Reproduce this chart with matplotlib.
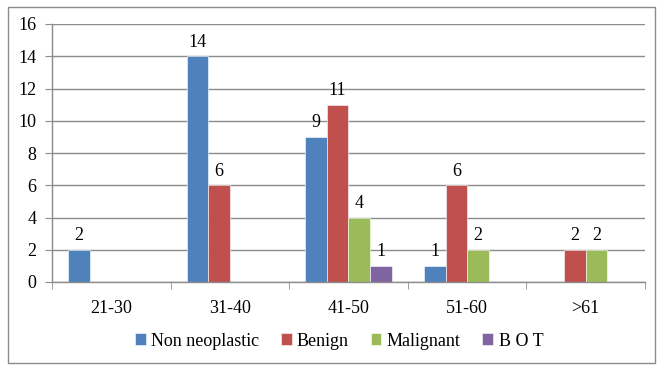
import matplotlib
matplotlib.use("Agg")
import matplotlib.pyplot as plt
from matplotlib.patches import Rectangle
import numpy as np

categories = ["21-30", "31-40", "41-50", "51-60", ">61"]
series_names = ["Non neoplastic", "Benign", "Malignant", "B O T"]
non_neoplastic = [2, 14, 9, 1, 0]
benign = [0, 6, 11, 6, 2]
malignant = [0, 0, 4, 2, 2]
bot = [0, 0, 1, 0, 0]
colors = ["#4F81BD", "#C0504D", "#9BBB59", "#8064A2"]

plt.rcParams["font.family"] = ["Liberation Serif", "DejaVu Serif"]

W, H = 658, 365
fig = plt.figure(figsize=(W / 100, H / 100), dpi=100)
fig.patch.set_facecolor("white")

# outer chart border
fig.patches.append(Rectangle((8 / W, 2 / H), 647 / W, 356 / H, transform=fig.transFigure,
                             fill=False, edgecolor="#8c8c8c", linewidth=1.0))

left, right, top, bottom = 52, 645, 24, 282
ax = fig.add_axes([left / W, (H - bottom) / H, (right - left) / W, (bottom - top) / H])

data = [non_neoplastic, benign, malignant, bot]
n = len(data)
x = np.arange(len(categories))
bw = 1 / (n + 1.5)
for i, (vals, c, name) in enumerate(zip(data, colors, series_names)):
    offs = (i - (n - 1) / 2) * bw
    bars = ax.bar(x + offs, vals, width=bw, color=c, label=name, zorder=3,
                  edgecolor="white", linewidth=0.4)
    for b, v in zip(bars, vals):
        if v:
            ax.text(b.get_x() + b.get_width() / 2, v + 0.35, str(v), ha="center",
                    va="bottom", fontsize=13, color="black")

ax.set_xlim(-0.5, len(categories) - 0.5)
ax.set_ylim(0, 16)
ax.set_yticks(np.arange(0, 17, 2))
ax.yaxis.grid(True, color="#8c8c8c", linewidth=1.0, zorder=0)
ax.set_axisbelow(True)

ax.set_xticks(x)
ax.set_xticklabels(categories, fontsize=13)
ax.set_xticks(np.arange(-0.5, len(categories)), minor=True)
ax.tick_params(axis="x", which="major", length=0, pad=13)
ax.tick_params(axis="x", which="minor", length=5, color="#8c8c8c", direction="out")
ax.tick_params(axis="y", length=5, color="#8c8c8c", labelsize=13, pad=6)

for s in ["top", "right"]:
    ax.spines[s].set_visible(False)
for s in ["left", "bottom"]:
    ax.spines[s].set_color("#8c8c8c")
    ax.spines[s].set_linewidth(1.0)
ax.spines["bottom"].set_zorder(4)

fig.legend(loc="center", bbox_to_anchor=(339 / W, (H - 341) / H), ncol=4, frameon=False,
           fontsize=13, handlelength=0.6, handleheight=0.6, handletextpad=0.3,
           columnspacing=1.2)

fig.savefig("out.png", dpi=100, facecolor="white")
